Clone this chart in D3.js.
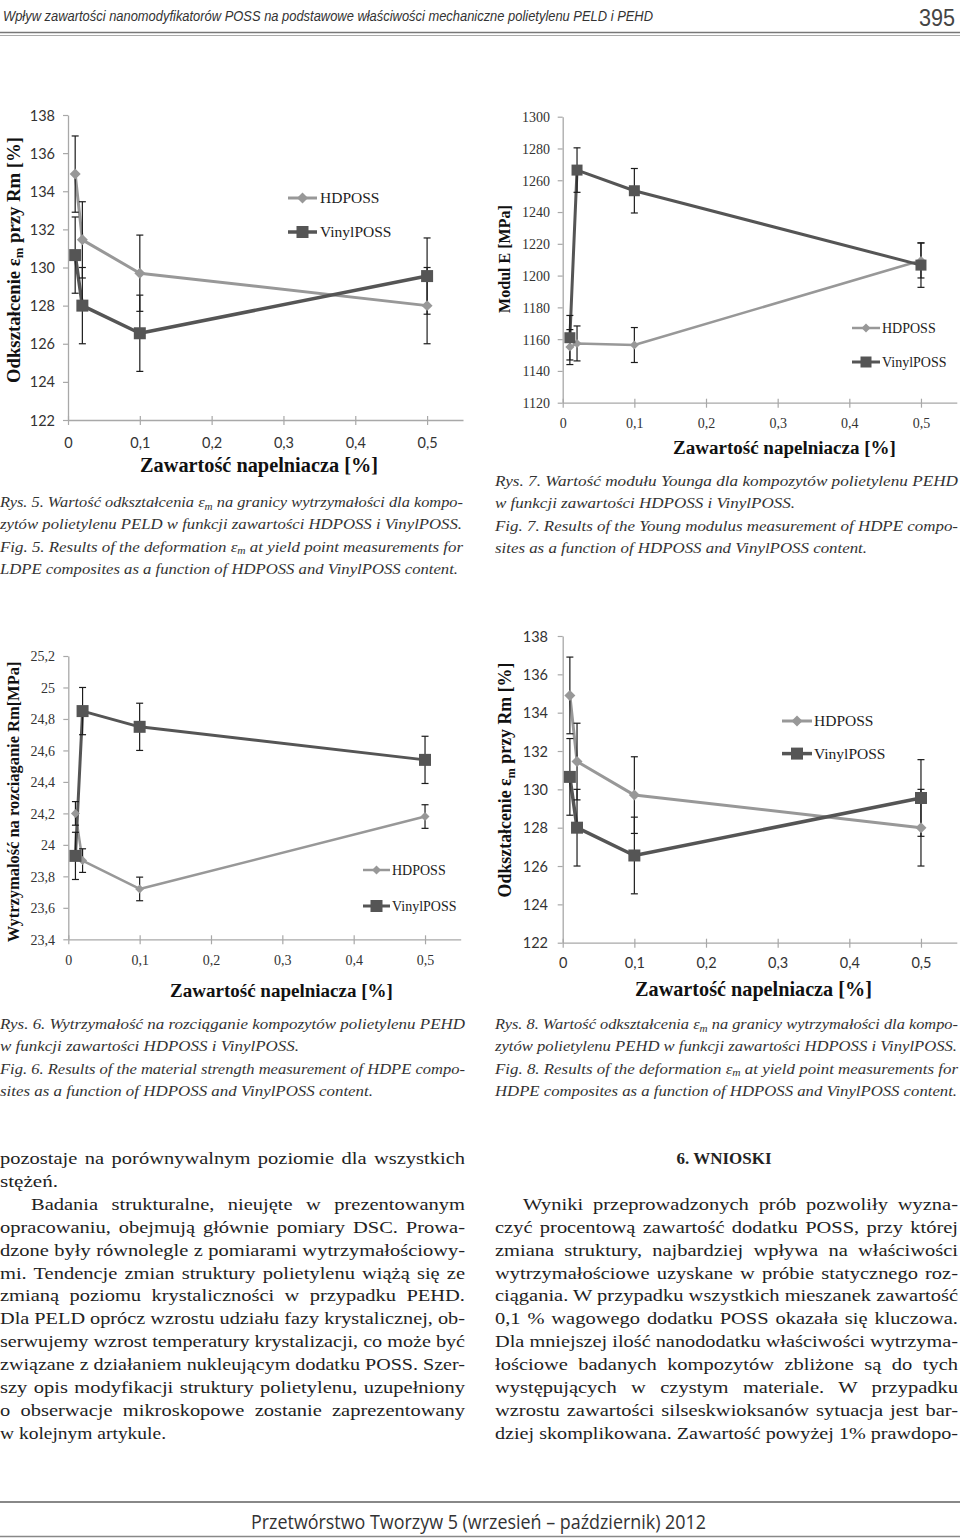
<!DOCTYPE html>
<html>
<head>
<meta charset="utf-8">
<script src="https://cdn.jsdelivr.net/npm/d3@7"></script>
<style>
  html, body { margin: 0; padding: 0; background: #fff; }
  svg { display: block; }
</style>
</head>
<body>
<svg id="page" width="960" height="1538"></svg>
<script>
// ---------------- DATA ----------------
const xValues = [0.01, 0.02, 0.1, 0.5];          // filler content [%]
const xTicks = [0, 0.1, 0.2, 0.3, 0.4, 0.5];
const seriesNames = ["HDPOSS", "VinylPOSS"];

// Rys. 5 / Rys. 8 : strain at Rm [%]
const strainTicks = [122, 124, 126, 128, 130, 132, 134, 136, 138];
const strainHD = [134.9, 131.45, 129.7, 128.0];
const strainHDErr = [2, 2, 2, 2];
const strainVinyl = [130.65, 128.0, 126.55, 129.55];
const strainVinylErr = [2, 2, 2, 2];

// Rys. 7 : Young modulus [MPa]
const modulusTicks = [1120, 1140, 1160, 1180, 1200, 1220, 1240, 1260, 1280, 1300];
const modulusHD = [1155, 1157.3, 1156.3, 1209.5];
const modulusHDErr = [11, 11, 11, 11];
const modulusVinyl = [1160.9, 1266.4, 1253.4, 1206.6];
const modulusVinylErr = [14, 14, 14, 14];

// Rys. 6 : tensile strength Rm [MPa]
const strengthTicks = [23.4, 23.6, 23.8, 24, 24.2, 24.4, 24.6, 24.8, 25, 25.2];
const strengthHD = [24.2, 23.9, 23.72, 24.18];
const strengthHDErr = [0.075, 0.075, 0.075, 0.075];
const strengthVinyl = [23.93, 24.85, 24.75, 24.54];
const strengthVinylErr = [0.15, 0.15, 0.15, 0.15];

// ---------------- TEXT ----------------
const headerText = "Wpływ zawartości nanomodyfikatorów POSS na podstawowe właściwości mechaniczne polietylenu PELD i PEHD";
const pageNumber = "395";
const footerText = "Przetwórstwo Tworzyw 5 (wrzesień – październik) 2012";

const capRys5 = [
  "Rys. 5. Wartość odkształcenia ε{m} na granicy wytrzymałości dla kompo-",
  "zytów polietylenu PELD w funkcji zawartości HDPOSS i VinylPOSS.",
  "Fig. 5. Results of the deformation ε{m} at yield point measurements for",
  "LDPE composites as a function of HDPOSS and VinylPOSS content."
];
const capRys7 = [
  "Rys. 7. Wartość modułu Younga dla kompozytów polietylenu PEHD",
  "w funkcji zawartości HDPOSS i VinylPOSS.",
  "Fig. 7. Results of the Young modulus measurement of HDPE compo-",
  "sites as a function of HDPOSS and VinylPOSS content."
];
const capRys6 = [
  "Rys. 6. Wytrzymałość na rozciąganie kompozytów polietylenu PEHD",
  "w funkcji zawartości HDPOSS i VinylPOSS.",
  "Fig. 6. Results of the material strength measurement of HDPE compo-",
  "sites as a function of HDPOSS and VinylPOSS content."
];
const capRys8 = [
  "Rys. 8. Wartość odkształcenia ε{m} na granicy wytrzymałości dla kompo-",
  "zytów polietylenu PEHD w funkcji zawartości HDPOSS i VinylPOSS.",
  "Fig. 8. Results of the deformation ε{m} at yield point measurements for",
  "HDPE composites as a function of HDPOSS and VinylPOSS content."
];
const bodyLeft = [
  "pozostaje na porównywalnym poziomie dla wszystkich",
  "stężeń.",
  "Badania strukturalne, nieujęte w prezentowanym",
  "opracowaniu, obejmują głównie pomiary DSC. Prowa-",
  "dzone były równolegle z pomiarami wytrzymałościowy-",
  "mi. Tendencje zmian struktury polietylenu wiążą się ze",
  "zmianą poziomu krystaliczności w przypadku PEHD.",
  "Dla PELD oprócz wzrostu udziału fazy krystalicznej, ob-",
  "serwujemy wzrost temperatury krystalizacji, co może być",
  "związane z działaniem nukleującym dodatku POSS. Szer-",
  "szy opis modyfikacji struktury polietylenu, uzupełniony",
  "o obserwacje mikroskopowe zostanie zaprezentowany",
  "w kolejnym artykule."
];
const sectionTitle = "6. WNIOSKI";
const bodyRight = [
  "Wyniki przeprowadzonych prób pozwoliły wyzna-",
  "czyć procentową zawartość dodatku POSS, przy której",
  "zmiana struktury, najbardziej wpływa na właściwości",
  "wytrzymałościowe uzyskane w próbie statycznego roz-",
  "ciągania. W przypadku wszystkich mieszanek zawartość",
  "0,1 % wagowego dodatku POSS okazała się kluczowa.",
  "Dla mniejszej ilość nanododatku właściwości wytrzyma-",
  "łościowe badanych kompozytów zbliżone są do tych",
  "występujących w czystym materiale. W przypadku",
  "wzrostu zawartości silseskwioksanów sytuacja jest bar-",
  "dziej skomplikowana. Zawartość powyżej 1% prawdopo-"
];

// ---------------- HELPERS ----------------
const svg = d3.select("#page");
const SERIF = "'Liberation Serif','Times New Roman',serif";
const SANS = "Lato,'Liberation Sans',sans-serif";

function rich(t, str) {
  const parts = str.split(/\{(.*?)\}/);
  let back = false;
  parts.forEach((p, i) => {
    if (!p) return;
    const ts = t.append("tspan").text(p);
    if (i % 2 === 1) { ts.attr("font-size", "0.68em").attr("dy", "0.28em"); back = true; }
    else if (back) { ts.attr("dy", "-0.19em"); back = false; }
  });
}

function fitWidth(t, str, W, k) {
  const n = (str.match(/ /g) || []).length;
  const w = t.node().getComputedTextLength();
  const target = W / k;
  if (n > 0 && target > w) {
    const ws = (target - w) / n;
    t.attr("word-spacing", ws);
    const w2 = t.node().getComputedTextLength();
    if (w2 - w < 0.5 * (target - w)) {
      t.attr("word-spacing", null);
      t.attr("textLength", W).attr("lengthAdjust", "spacing");
      return;
    }
  }
  t.attr("textLength", W).attr("lengthAdjust", "spacingAndGlyphs");
}

function textLine(o) {
  const t = svg.append("text")
    .attr("x", o.x).attr("y", o.y)
    .attr("font-family", o.family || SERIF)
    .attr("font-size", o.fs)
    .attr("font-style", o.style || "normal")
    .attr("font-weight", o.weight || "normal")
    .attr("fill", o.fill || "#222")
    .attr("text-anchor", o.anchor || "start");
  rich(t, o.t);
  if (o.w) fitWidth(t, o.t, o.w, o.k || 1);
  return t;
}

// ---------------- PAGE FURNITURE ----------------
textLine({ t: headerText, x: 3, y: 21, fs: 15, family: "'Liberation Sans Narrow','Liberation Sans',sans-serif",
  style: "italic", fill: "#333", w: 650, k: 1 });
textLine({ t: pageNumber, x: 919, y: 26, fs: 24, family: "'Liberation Sans Narrow','Liberation Sans',sans-serif",
  fill: "#444", w: 36, k: 1 });
svg.append("line").attr("x1", 0).attr("x2", 960).attr("y1", 32.5).attr("y2", 32.5).attr("stroke", "#777").attr("stroke-width", 1.5);
svg.append("line").attr("x1", 0).attr("x2", 960).attr("y1", 35.5).attr("y2", 35.5).attr("stroke", "#aaa").attr("stroke-width", 1);

svg.append("line").attr("x1", 0).attr("x2", 960).attr("y1", 1502).attr("y2", 1502).attr("stroke", "#888").attr("stroke-width", 2);
svg.append("line").attr("x1", 0).attr("x2", 960).attr("y1", 1536.5).attr("y2", 1536.5).attr("stroke", "#888").attr("stroke-width", 1.5);
textLine({ t: footerText, x: 251, y: 1529, fs: 20, family: "'Open Sans','Liberation Sans',sans-serif", fill: "#333", w: 455, k: 1 });

// captions
function caption(lines, x0, y0, widths) {
  lines.forEach((s, i) => textLine({ t: s, x: x0, y: y0 + i * 22.3, fs: 15, style: "italic", fill: "#333", w: widths[i], k: 1.16 }));
}
caption(capRys5, 0, 507, [463, 462, 463, 458]);
caption(capRys7, 495, 486, [463, 300, 463, 372]);
caption(capRys6, 0, 1029, [465, 299, 465, 373]);
caption(capRys8, 495, 1029, [463, 462, 463, 462]);

// body
const bodyLeftX = [0, 0, 31, 0, 0, 0, 0, 0, 0, 0, 0, 0, 0];
const bodyLeftW = [465, 58, 434, 465, 465, 465, 465, 465, 465, 465, 465, 465, 166];
bodyLeft.forEach((s, i) => textLine({ t: s, x: bodyLeftX[i], y: 1164 + i * 22.9, fs: 17.5, fill: "#222", w: bodyLeftW[i], k: 1.17 }));
textLine({ t: sectionTitle, x: 724, y: 1164, fs: 17, anchor: "middle", weight: "bold", fill: "#222" });
bodyRight.forEach((s, i) => textLine({ t: s, x: i === 0 ? 523 : 495, y: 1164 + (i + 2) * 22.9, fs: 17.5, fill: "#222",
  w: i === 0 ? 435 : 463, k: 1.17 }));

// ---------------- CHARTS ----------------
const fmt = v => d3.format("~g")(v).replace(".", ",");
const HD_COLOR = "#989898", VI_COLOR = "#555555", ERR_COLOR = "#1c1c1c", AXIS_COLOR = "#a8a8a8";

function drawChart(L, D) {
  const x = d3.scaleLinear().domain([0, 0.55]).range([L.x0, L.x1]);
  const y = d3.scaleLinear().domain([D.yTicks[0], D.yTicks[D.yTicks.length - 1]]).range([L.yBottom, L.yTop]);
  const g = svg.append("g");

  const ya = g.append("g").attr("transform", `translate(${L.x0},0)`)
    .call(d3.axisLeft(y).tickValues(D.yTicks).tickSizeInner(5).tickSizeOuter(0).tickFormat(fmt));
  ya.select(".domain").attr("stroke", AXIS_COLOR).attr("stroke-width", 1.3);
  ya.selectAll(".tick line").attr("stroke", AXIS_COLOR).attr("stroke-width", 1.2);
  ya.selectAll(".tick text").attr("x", L.yLabelRight - L.x0).attr("dy", "0.35em")
    .attr("font-family", L.font).attr("font-size", L.fs).attr("fill", "#333");

  const xa = g.append("g").attr("transform", `translate(0,${L.yBottom})`)
    .call(d3.axisBottom(x).tickValues(xTicks).tickSizeInner(5).tickSizeOuter(0).tickFormat(fmt));
  xa.select(".domain").attr("stroke", AXIS_COLOR).attr("stroke-width", 1.3);
  xa.selectAll(".tick line").attr("y1", -4).attr("y2", 5).attr("stroke", AXIS_COLOR).attr("stroke-width", 1.2);
  xa.selectAll(".tick text").attr("y", L.xLabelBase - L.yBottom).attr("dy", 0)
    .attr("font-family", L.font).attr("font-size", L.fs).attr("fill", "#333");

  const series = [
    { name: seriesNames[0], vals: D.hd, err: D.hdErr, color: HD_COLOR, w: L.hdW, mark: "diamond", ms: L.diam },
    { name: seriesNames[1], vals: D.vi, err: D.viErr, color: VI_COLOR, w: L.viW, mark: "square", ms: L.sq }
  ];
  const idx = d3.range(xValues.length);
  const markerPath = (s) => d3.symbol(d3.symbolSquare, s.mark === "diamond" ? (s.ms / Math.SQRT2) ** 2 : s.ms * s.ms)();
  const markerRot = (s) => s.mark === "diamond" ? " rotate(45)" : "";

  series.forEach(s => {
    g.append("path").datum(idx)
      .attr("d", d3.line().x(i => x(xValues[i])).y(i => y(s.vals[i])))
      .attr("fill", "none").attr("stroke", s.color).attr("stroke-width", s.w).attr("stroke-linejoin", "round");
  });
  series.forEach(s => {
    const eg = g.append("g").attr("stroke", ERR_COLOR).attr("stroke-width", 1.2);
    idx.forEach(i => {
      const cx = x(xValues[i]);
      const top = y(s.vals[i] + s.err[i]), bot = y(s.vals[i] - s.err[i]);
      eg.append("line").attr("x1", cx).attr("x2", cx).attr("y1", top).attr("y2", bot);
      eg.append("line").attr("x1", cx - 3.5).attr("x2", cx + 3.5).attr("y1", top).attr("y2", top);
      eg.append("line").attr("x1", cx - 3.5).attr("x2", cx + 3.5).attr("y1", bot).attr("y2", bot);
    });
  });
  series.forEach(s => {
    g.selectAll(null).data(idx).enter().append("path")
      .attr("d", markerPath(s))
      .attr("transform", i => `translate(${x(xValues[i])},${y(s.vals[i])})${markerRot(s)}`)
      .attr("fill", s.color);
  });

  // legend
  series.forEach((s, k) => {
    const ly = L.leg.y + k * L.leg.dy;
    g.append("line").attr("x1", L.leg.x1).attr("x2", L.leg.x2).attr("y1", ly).attr("y2", ly)
      .attr("stroke", s.color).attr("stroke-width", s.w);
    g.append("path").attr("d", markerPath(s))
      .attr("transform", `translate(${(L.leg.x1 + L.leg.x2) / 2},${ly})${markerRot(s)}`).attr("fill", s.color);
    g.append("text").attr("x", L.leg.tx).attr("y", ly + 0.33 * L.leg.fs)
      .attr("font-family", SERIF).attr("font-size", L.leg.fs).attr("fill", "#222").text(s.name);
  });

  // y title
  const yt = g.append("text").attr("transform", `translate(${L.yTitle.cx},${L.yTitle.cy}) rotate(-90)`)
    .attr("x", 0).attr("y", "0.35em").attr("text-anchor", "middle")
    .attr("font-family", SERIF).attr("font-weight", "bold").attr("font-size", 18).attr("fill", "#111");
  rich(yt, D.yTitle);
  let w = yt.node().getComputedTextLength();
  yt.attr("font-size", 18 * L.yTitle.len / w);

  // x title
  const xt = g.append("text").attr("x", L.xTitle.cx).attr("y", L.xTitle.base).attr("text-anchor", "middle")
    .attr("font-family", SERIF).attr("font-weight", "bold").attr("font-size", 20).attr("fill", "#111");
  rich(xt, D.xTitle);
  w = xt.node().getComputedTextLength();
  xt.attr("font-size", 20 * L.xTitle.len / w);
}

// Rys. 5
drawChart(
  { x0: 68, x1: 463, yTop: 115, yBottom: 420, yLabelRight: 55, xLabelBase: 448, font: SANS, fs: 14.5,
    hdW: 3, viW: 3.5, diam: 11, sq: 12,
    leg: { x1: 288, x2: 317, y: 198, dy: 34, tx: 320, fs: 15.5 },
    yTitle: { cx: 13, cy: 260, len: 246 }, xTitle: { cx: 259, base: 472, len: 238 } },
  { yTicks: strainTicks, hd: strainHD, hdErr: strainHDErr, vi: strainVinyl, viErr: strainVinylErr,
    yTitle: "Odkształcenie ε{m} przy Rm [%]", xTitle: "Zawartość napelniacza [%]" });

// Rys. 7
drawChart(
  { x0: 562.7, x1: 956.8, yTop: 116.7, yBottom: 402.7, yLabelRight: 550, xLabelBase: 428, font: SERIF, fs: 14,
    hdW: 2.5, viW: 3, diam: 9, sq: 11,
    leg: { x1: 852, x2: 880, y: 328, dy: 34, tx: 882, fs: 14 },
    yTitle: { cx: 504, cy: 259, len: 108 }, xTitle: { cx: 784.5, base: 454, len: 223 } },
  { yTicks: modulusTicks, hd: modulusHD, hdErr: modulusHDErr, vi: modulusVinyl, viErr: modulusVinylErr,
    yTitle: "Modul E [MPa]", xTitle: "Zawartość napelniacza  [%]" });

// Rys. 6
drawChart(
  { x0: 68.3, x1: 460.7, yTop: 656, yBottom: 939.3, yLabelRight: 55, xLabelBase: 965, font: SERIF, fs: 14,
    hdW: 2.5, viW: 3, diam: 9, sq: 12,
    leg: { x1: 363, x2: 390, y: 870, dy: 36, tx: 392, fs: 14 },
    yTitle: { cx: 13, cy: 802, len: 281 }, xTitle: { cx: 281.5, base: 997, len: 223 } },
  { yTicks: strengthTicks, hd: strengthHD, hdErr: strengthHDErr, vi: strengthVinyl, viErr: strengthVinylErr,
    yTitle: "Wytrzymalość na rozciaganie Rm[MPa]", xTitle: "Zawartość napelniacza  [%]" });

// Rys. 8
drawChart(
  { x0: 562.7, x1: 956.8, yTop: 636, yBottom: 942.7, yLabelRight: 548, xLabelBase: 968, font: SANS, fs: 14.5,
    hdW: 3, viW: 3.5, diam: 11, sq: 12,
    leg: { x1: 782, x2: 812, y: 721, dy: 32.6, tx: 814, fs: 15.5 },
    yTitle: { cx: 505, cy: 780, len: 235 }, xTitle: { cx: 753.5, base: 996, len: 237 } },
  { yTicks: strainTicks, hd: strainHD, hdErr: strainHDErr, vi: strainVinyl, viErr: strainVinylErr,
    yTitle: "Odkształcenie ε{m} przy Rm [%]", xTitle: "Zawartość napelniacza [%]" });
</script>
</body>
</html>
